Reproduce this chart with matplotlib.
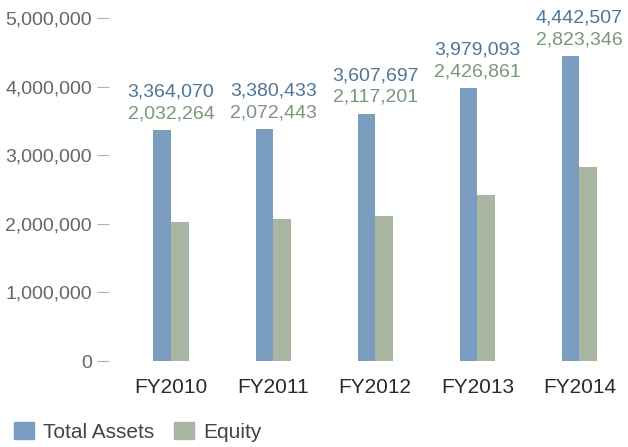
import matplotlib
matplotlib.use("Agg")
import matplotlib.pyplot as plt
from matplotlib.ticker import FuncFormatter
from matplotlib.patches import Patch
import numpy as np

categories = ["FY2010", "FY2011", "FY2012", "FY2013", "FY2014"]
total_assets = [3364070, 3380433, 3607697, 3979093, 4442507]
equity = [2032264, 2072443, 2117201, 2426861, 2823346]
yticks = [0, 1000000, 2000000, 3000000, 4000000, 5000000]

blue = "#7b9dc0"
green = "#a9b6a2"
blue_txt = "#4f7597"
green_txt = "#7b9779"

plt.rcParams['font.family'] = ['Liberation Sans', 'DejaVu Sans']

W, H = 628, 447
fig = plt.figure(figsize=(W/100, H/100), dpi=100)
ax_left, ax_right = 109, 628
ax_bottom, ax_top = 361, 4.3
ax = fig.add_axes([ax_left/W, 1 - ax_bottom/H, (ax_right-ax_left)/W, (ax_bottom-ax_top)/H])

x = np.arange(len(categories))
bw = 0.172
ax.bar(x - bw/2, total_assets, width=bw, color=blue, label="Total Assets")
ax.bar(x + bw/2, equity, width=bw, color=green, label="Equity")

for i in range(len(categories)):
    top = max(total_assets[i], equity[i])
    ax.annotate(f"{equity[i]:,}", (x[i], top), xytext=(0, 8.6), textcoords="offset points",
                ha="center", va="baseline", fontsize=14, color=green_txt)
    ax.annotate(f"{total_assets[i]:,}", (x[i], top), xytext=(0, 24), textcoords="offset points",
                ha="center", va="baseline", fontsize=14, color=blue_txt)

ax.set_xlim(-0.607, 4.475)
ax.set_ylim(0, 5.2e6)
ax.set_yticks(yticks)
ax.yaxis.set_major_formatter(FuncFormatter(lambda v, p: f"{int(v):,}"))
ax.tick_params(axis='y', length=8.6, width=0.8, color="#b0b0b0", pad=3.6, labelsize=14, labelcolor="#666666")
ax.set_xticks(x)
ax.set_xticklabels(categories)
ax.tick_params(axis='x', length=0, pad=12, labelsize=15, labelcolor="#2a2a2a")
for s in ax.spines.values():
    s.set_visible(False)

handles = [Patch(color=blue, label="Total Assets"), Patch(color=green, label="Equity")]
fig.legend(handles=handles, loc="center left", bbox_to_anchor=(14/W, 1 - 432/H),
           bbox_transform=fig.transFigure, frameon=False, ncol=2, fontsize=15,
           handlelength=0.96, handleheight=0.87, handletextpad=0.43, columnspacing=0.96,
           borderpad=0, borderaxespad=0, labelcolor="#444444")

fig.savefig("out.png", dpi=100)
